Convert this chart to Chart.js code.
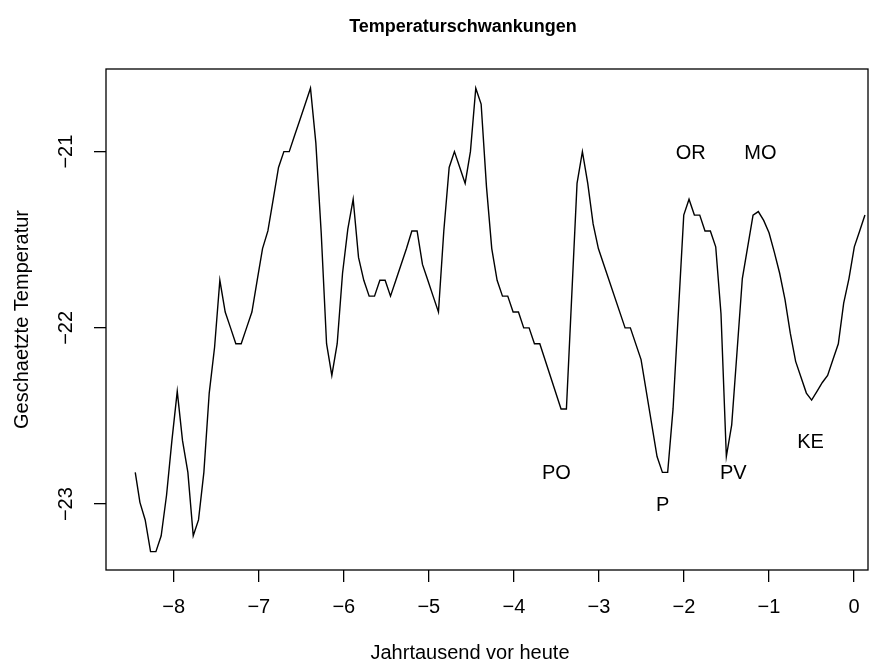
<!DOCTYPE html>
<html>
<head>
<meta charset="utf-8">
<title>Temperaturschwankungen</title>
<script src="https://cdn.jsdelivr.net/npm/chart.js@4/dist/chart.umd.min.js"></script>
<style>
  html, body { margin: 0; padding: 0; background: #fff; }
  #wrap { width: 882px; height: 665px; }
</style>
</head>
<body>
<div id="wrap"><canvas id="tempChart" width="882" height="665"></canvas></div>
<script>
// (kyr before present, estimated temperature)
const kyr = [
  -8.453, -8.398, -8.336, -8.273, -8.210, -8.148, -8.085, -8.022, -7.959, -7.897,
  -7.834, -7.771, -7.709, -7.646, -7.583, -7.520, -7.458, -7.395, -7.332, -7.270,
  -7.207, -7.144, -7.081, -7.019, -6.956, -6.893, -6.830, -6.768, -6.705, -6.642,
  -6.580, -6.517, -6.454, -6.392, -6.329, -6.266, -6.203, -6.141, -6.078, -6.015,
  -5.953, -5.890, -5.827, -5.765, -5.702, -5.639, -5.576, -5.514, -5.451, -5.388,
  -5.326, -5.263, -5.200, -5.138, -5.075, -5.012, -4.950, -4.887, -4.824, -4.761,
  -4.699, -4.636, -4.573, -4.511, -4.448, -4.385, -4.322, -4.260, -4.197, -4.134,
  -4.072, -4.009, -3.946, -3.884, -3.821, -3.758, -3.695, -3.445, -3.382, -3.257,
  -3.194, -3.131, -3.068, -3.006, -2.943, -2.692, -2.630, -2.504, -2.316, -2.253,
  -2.191, -2.128, -2.002, -1.940, -1.877, -1.814, -1.752, -1.689, -1.626, -1.564,
  -1.501, -1.438, -1.376, -1.313, -1.250, -1.187, -1.125, -1.062, -0.999, -0.937,
  -0.874, -0.811, -0.749, -0.686, -0.623, -0.560, -0.498, -0.435, -0.372, -0.310,
  -0.247, -0.184, -0.121, -0.059, 0.004, 0.067, 0.129
];
const temp = [
  -22.82, -22.99, -23.09, -23.27, -23.27, -23.18, -22.95, -22.64, -22.36, -22.64,
  -22.82, -23.18, -23.09, -22.82, -22.37, -22.11, -21.73, -21.91, -22.00, -22.09,
  -22.09, -22.00, -21.91, -21.73, -21.55, -21.45, -21.27, -21.09, -21.00, -21.00,
  -20.91, -20.82, -20.73, -20.64, -20.95, -21.46, -22.09, -22.27, -22.09, -21.69,
  -21.44, -21.27, -21.60, -21.73, -21.82, -21.82, -21.73, -21.73, -21.82, -21.73,
  -21.64, -21.55, -21.45, -21.45, -21.64, -21.73, -21.82, -21.91, -21.45, -21.09,
  -21.00, -21.09, -21.18, -21.00, -20.64, -20.73, -21.20, -21.55, -21.73, -21.82,
  -21.82, -21.91, -21.91, -22.00, -22.00, -22.09, -22.09, -22.46, -22.46, -21.18,
  -21.00, -21.18, -21.41, -21.55, -21.64, -22.00, -22.00, -22.18, -22.73, -22.82,
  -22.82, -22.46, -21.36, -21.27, -21.36, -21.36, -21.45, -21.45, -21.54, -21.92,
  -22.73, -22.55, -22.14, -21.72, -21.54, -21.36, -21.34, -21.39, -21.46, -21.57,
  -21.69, -21.84, -22.03, -22.19, -22.28, -22.37, -22.41, -22.36, -22.31, -22.27,
  -22.18, -22.09, -21.86, -21.72, -21.54, -21.45, -21.36
];

const xTicks = [-8, -7, -6, -5, -4, -3, -2, -1, 0];
const yTicks = [-23, -22, -21];

// period labels written into the plot
const markNames = ['PO', 'P', 'OR', 'MO', 'PV', 'KE'];
const markX = [-3.50, -2.25, -1.92, -1.10, -1.42, -0.51];
const markY = [-22.82, -23.00, -21.00, -21.00, -22.82, -22.64];

const mainTitle = 'Temperaturschwankungen';
const xLabel = 'Jahrtausend vor heute';

const FONT = '"Liberation Sans", Arial, Helvetica, sans-serif';
Chart.defaults.font.family = FONT;
Chart.defaults.color = '#000';

const minus = (v) => String(v).replace('-', '\u2212');

// R style: full box round the plot region, title, x label and text marks
const boxAndMarks = {
  id: 'boxAndMarks',
  afterDatasetsDraw(chart) {
    const { ctx, chartArea: a, scales: { x, y } } = chart;
    const mid = (a.left + a.right) / 2;
    ctx.save();
    ctx.strokeStyle = '#000';
    ctx.lineWidth = 1.3;
    ctx.strokeRect(a.left, a.top, a.right - a.left, a.bottom - a.top);
    ctx.fillStyle = '#000';
    ctx.textAlign = 'center';
    ctx.textBaseline = 'middle';

    ctx.font = 'bold 18px ' + FONT;
    ctx.fillText(mainTitle, mid - 24, 27);

    ctx.font = '20px ' + FONT;
    ctx.fillText(xLabel, mid - 17, 653);

    markNames.forEach((t, i) => {
      ctx.fillText(t, x.getPixelForValue(markX[i]), y.getPixelForValue(markY[i]) + 1.5);
    });
    ctx.restore();
  }
};

new Chart(document.getElementById('tempChart'), {
  type: 'line',
  data: {
    datasets: [{
      data: kyr.map((k, i) => ({ x: k, y: temp[i] })),
      borderColor: '#000',
      borderWidth: 1.4,
      pointRadius: 0,
      tension: 0,
      fill: false
    }]
  },
  options: {
    responsive: false,
    animation: false,
    layout: { padding: { left: 0, right: 14, top: 69, bottom: 0 } },
    plugins: {
      legend: { display: false },
      tooltip: { enabled: false },
      title: { display: false }
    },
    scales: {
      x: {
        type: 'linear',
        min: -8.797,
        max: 0.165,
        afterBuildTicks: (s) => { s.ticks = xTicks.map((v) => ({ value: v })); },
        afterFit: (s) => { s.height = 95; },
        grid: { display: true, drawOnChartArea: false, drawTicks: true, tickLength: 12, color: '#000', lineWidth: 1.3 },
        border: { display: false },
        ticks: { font: { size: 20 }, padding: 13, maxRotation: 0, callback: minus }
      },
      y: {
        type: 'linear',
        min: -23.374,
        max: -20.531,
        afterBuildTicks: (s) => { s.ticks = yTicks.map((v) => ({ value: v })); },
        afterFit: (s) => { s.width = 106; },
        grid: { display: true, drawOnChartArea: false, drawTicks: true, tickLength: 12, color: '#000', lineWidth: 1.3 },
        border: { display: false },
        ticks: { font: { size: 20 }, padding: 11, minRotation: 90, maxRotation: 90, crossAlign: 'center', callback: minus },
        title: { display: true, text: 'Geschaetzte Temperatur', font: { size: 20 }, padding: { top: 10, bottom: 0 } }
      }
    }
  },
  plugins: [boxAndMarks]
});
</script>
</body>
</html>
